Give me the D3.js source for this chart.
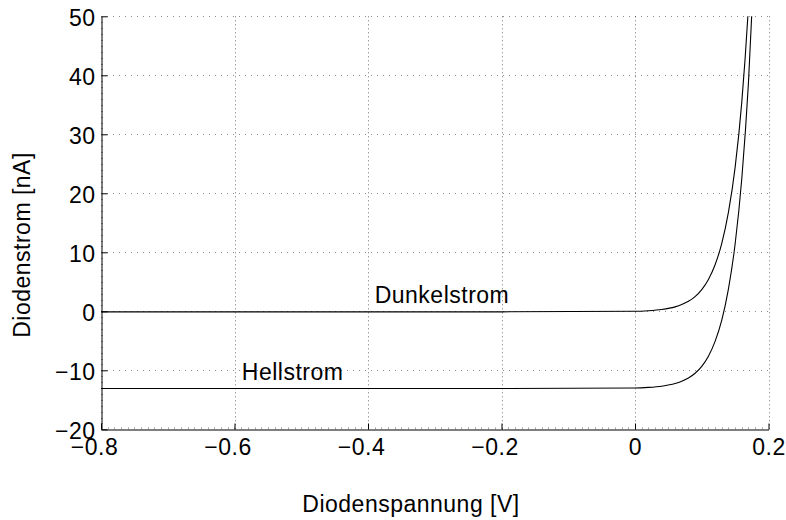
<!DOCTYPE html>
<html>
<head>
<meta charset="utf-8">
<script src="https://cdn.jsdelivr.net/npm/d3@7"></script>
<style>
  html, body { margin: 0; padding: 0; background: #fff; }
  svg { display: block; font-family: "Liberation Sans", Arial, Helvetica, sans-serif; }
  svg text { letter-spacing: 0.5px; }
</style>
</head>
<body>
<svg id="chart" width="786" height="520"></svg>
<script>
// Diode I-V characteristic, dark and illuminated
const voltage = [-0.8, -0.6, -0.4, -0.2, 0, 0.02, 0.04, 0.06, 0.07, 0.08, 0.09, 0.10, 0.11, 0.12, 0.13, 0.14, 0.15, 0.16, 0.17, 0.18];
const darkCurrent = [-0.09, -0.09, -0.09, -0.09, 0, 0.10, 0.31, 0.75, 1.14, 1.69, 2.5, 3.68, 5.4, 7.9, 11.5, 16.8, 24.4, 35.5, 51.8, 75.3];
const lightCurrent = [-13.09, -13.09, -13.09, -13.09, -13, -12.9, -12.69, -12.25, -11.86, -11.31, -10.5, -9.32, -7.6, -5.1, -1.5, 3.8, 11.4, 22.5, 38.8, 62.3];

const xTicks = [-0.8, -0.6, -0.4, -0.2, 0, 0.2];
const yTicks = [-20, -10, 0, 10, 20, 30, 40, 50];

const curveLabels = [
  { text: "Dunkelstrom", v: -0.39, i: 1.4 },
  { text: "Hellstrom", v: -0.589, i: -11.6 }
];

const xTitle = "Diodenspannung [V]";
const yTitle = "Diodenstrom [nA]";

(function draw() {
  const svg = d3.select("#chart");
  const plotL = 101, plotR = 768.5, plotT = 16.3, plotB = 429.3;
  const fontSize = 23;

  const x = d3.scaleLinear().domain([-0.8, 0.2]).range([plotL, plotR]);
  const y = d3.scaleLinear().domain([-20, 50]).range([plotB, plotT]);

  const fmt = v => (v < 0 ? "\u2212" : "") + d3.format("")(Math.abs(v));

  // dotted grid
  const grid = svg.append("g").attr("stroke", "#000").attr("stroke-width", 1).attr("fill", "none");
  xTicks.filter(v => v > -0.8).forEach(v => {
    const px = Math.round(x(v)) + 0.5;
    grid.append("line").attr("x1", px).attr("x2", px).attr("y1", plotT).attr("y2", plotB)
      .attr("stroke-dasharray", "1,3").attr("stroke-opacity", 0.55);
  });
  yTicks.filter(v => v > -20).forEach(v => {
    const py = Math.round(y(v)) + 0.5;
    grid.append("line").attr("x1", plotL).attr("x2", plotR).attr("y1", py).attr("y2", py)
      .attr("stroke-dasharray", "1,5").attr("stroke-opacity", 0.45);
  });

  // curves, clipped to the plot area
  svg.append("clipPath").attr("id", "plotArea")
    .append("rect").attr("x", plotL).attr("y", plotT).attr("width", plotR - plotL).attr("height", plotB - plotT);

  const line = d3.line().x((d, i) => x(voltage[i])).y(d => y(d)).curve(d3.curveMonotoneX);
  const curves = svg.append("g").attr("clip-path", "url(#plotArea)")
    .attr("fill", "none").attr("stroke", "#000").attr("stroke-width", 1.1);
  curves.append("path").attr("d", line(darkCurrent));
  curves.append("path").attr("d", line(lightCurrent));

  // minor ticks
  const minor = svg.append("g").attr("stroke", "#000").attr("stroke-width", 1).attr("stroke-opacity", 0.35);
  d3.range(-0.79, 0.2, 0.01).forEach(v => {
    const px = Math.round(x(v)) + 0.5;
    minor.append("line").attr("x1", px).attr("x2", px).attr("y1", plotB).attr("y2", plotB - 2);
  });
  d3.range(-19, 50, 1).forEach(v => {
    if (v % 10 === 0) return;
    const py = Math.round(y(v)) + 0.5;
    minor.append("line").attr("x1", plotL).attr("x2", plotL + 2).attr("y1", py).attr("y2", py);
  });

  // axes
  const xAxis = svg.append("g").attr("transform", `translate(0,${Math.round(plotB) + 0.5})`)
    .call(d3.axisBottom(x).tickValues(xTicks).tickSizeInner(-6).tickSizeOuter(0).tickPadding(8).tickFormat(fmt));
  const yAxis = svg.append("g").attr("transform", `translate(${Math.round(plotL) + 0.5},0)`)
    .call(d3.axisLeft(y).tickValues(yTicks).tickSizeInner(-6).tickSizeOuter(0).tickPadding(6).tickFormat(fmt));

  [xAxis, yAxis].forEach(a => {
    a.attr("font-family", null).attr("font-size", null);
    a.select(".domain").attr("stroke", "#000").attr("stroke-width", 1);
    a.selectAll(".tick line").attr("stroke", "#000");
    a.selectAll(".tick text").attr("fill", "#000").attr("font-size", fontSize);
  });

  // x labels: the number is centred on its tick, a minus sign hangs to the left
  xAxis.selectAll(".tick text").each(function (v) {
    const t = d3.select(this);
    t.attr("dy", null).attr("y", 25.5);
    if (v < 0) {
      t.text(d3.format("")(Math.abs(v)));
      const w = this.getComputedTextLength();
      t.text(fmt(v)).attr("text-anchor", "end").attr("x", w / 2);
    }
  });
  yAxis.selectAll(".tick text").attr("dy", "0.42em");

  // curve names
  svg.append("g").selectAll("text").data(curveLabels).join("text")
    .attr("x", d => x(d.v)).attr("y", d => y(d.i))
    .attr("font-size", fontSize).attr("fill", "#000").text(d => d.text);

  // axis titles
  svg.append("text").attr("x", 411).attr("y", 512).attr("text-anchor", "middle")
    .attr("font-size", fontSize).attr("fill", "#000").text(xTitle);
  svg.append("text").attr("transform", "translate(30,245) rotate(-90)").attr("text-anchor", "middle")
    .attr("font-size", fontSize).attr("fill", "#000").text(yTitle);
})();
</script>
</body>
</html>
